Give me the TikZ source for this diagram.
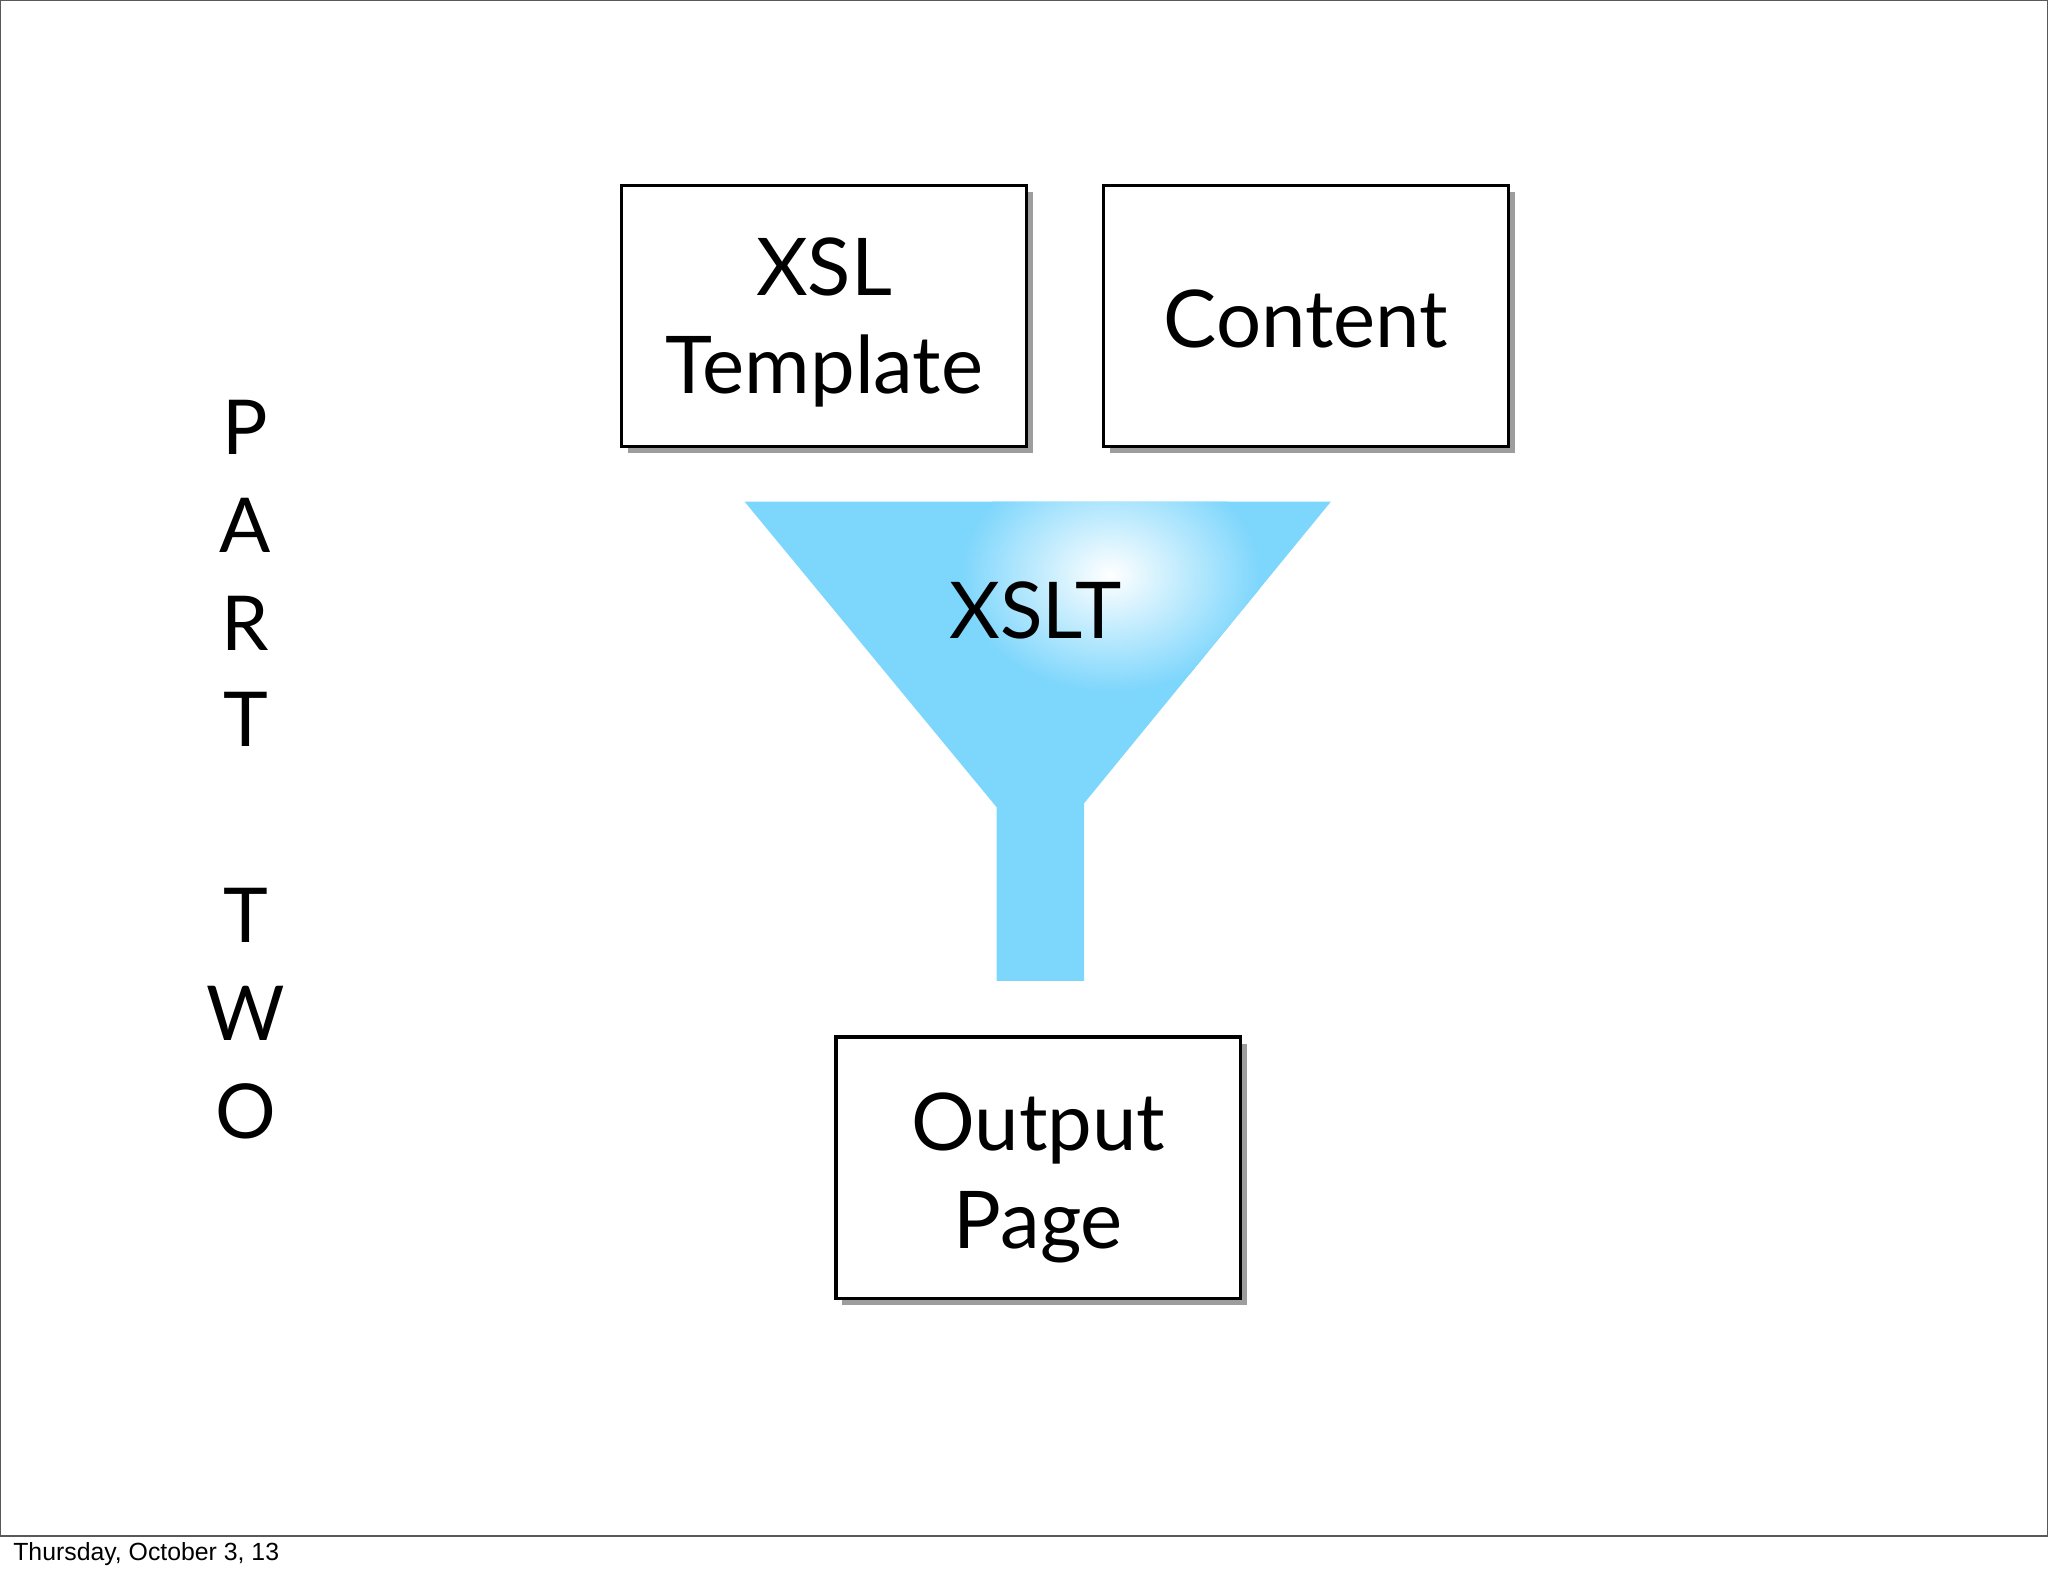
\documentclass[tikz,border=0pt]{standalone}
\usepackage{fontspec}
\setmainfont{Lato}
\newfontfamily\footfont{Liberation Sans}
\usetikzlibrary{shadows}
\begin{document}
\begin{tikzpicture}[x=1pt,y=-1pt,
  box/.style={draw=black,line width=2.5pt,fill=white,minimum width=310pt,minimum height=200pt,
    drop shadow={shadow xshift=5pt,shadow yshift=-5pt,opacity=0.55,fill=black!70}},
  lab/.style={font=\fontsize{61}{75}\selectfont,align=center,inner sep=0pt},
  letter/.style={font=\fontsize{58}{58}\selectfont,inner sep=0pt}]
\useasboundingbox (0,0) rectangle (1568,1206);
\draw[line width=1pt,gray!70!black] (0.5,0.5) rectangle (1567.5,1176);
\node[font=\footfont\fontsize{19}{21}\selectfont,anchor=west,inner sep=0pt] (date) at (10,1190) {Thursday, October 3, 13};
\node[box] (xsl) at (631,242) {};
\node[lab] (xsllab) at (631,247) {XSL\\Template};
\node[box] (cont) at (1000,242) {};
\node[lab] (contlab) at (1000,244) {Content};
\node[box] (out) at (795,894) {};
\node[lab] (outlab) at (795,902) {Output\\Page};
\definecolor{funnel}{RGB}{125,214,252}
\begin{scope}
\clip (570,384) -- (1019,384) -- (830,615) -- (830,751) -- (763,751) -- (763,618) -- cycle;
\fill[funnel] (560,370) rectangle (1030,760);
\shade[inner color=white,outer color=funnel] (850,440) ellipse (115 and 90);
\end{scope}
\node[font=\fontsize{60}{60}\selectfont,inner sep=0pt] (xslt) at (793,467) {XSLT};
\foreach \l/\y [count=\i] in {P/327,A/402,R/477,T/551,T/701,W/776,O/851}
  \node[letter] (l\i) at (188,\y) {\l};
\end{tikzpicture}
\end{document}
